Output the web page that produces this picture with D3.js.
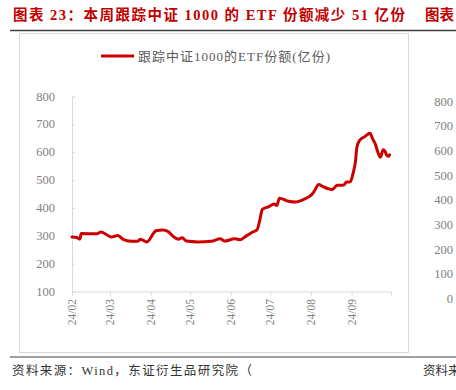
<!DOCTYPE html>
<html><head><meta charset="utf-8">
<script src="https://cdn.jsdelivr.net/npm/d3@7"></script>
<style>body{margin:0;background:#fff}svg{display:block}</style>
</head><body>
<svg id="c" width="456" height="390"></svg>
<script>
const dates = ["2024-02-01","2024-02-05","2024-02-07","2024-02-08","2024-02-20","2024-02-23","2024-03-02","2024-03-07","2024-03-11","2024-03-17","2024-03-22","2024-03-24","2024-03-29","2024-04-05","2024-04-10","2024-04-14","2024-04-18","2024-04-22","2024-04-25","2024-04-28","2024-05-07","2024-05-17","2024-05-24","2024-05-27","2024-06-04","2024-06-08","2024-06-12","2024-06-17","2024-06-21","2024-06-23","2024-06-25","2024-06-30","2024-07-04","2024-07-06","2024-07-08","2024-07-15","2024-07-20","2024-07-25","2024-07-28","2024-08-01","2024-08-03","2024-08-07","2024-08-10","2024-08-14","2024-08-17","2024-08-21","2024-08-26","2024-08-28","2024-08-31","2024-09-02","2024-09-04","2024-09-05","2024-09-07","2024-09-11","2024-09-15","2024-09-17","2024-09-19","2024-09-21","2024-09-23","2024-09-25","2024-09-26","2024-09-28","2024-09-29","2024-09-30"];
const values = [296,293,288,308,307,314,296,301,287,280,280,288,278,318,321,316,298,288,293,281,278,280,289,281,289,286,297,312,322,355,395,405,414,409,435,424,421,427,434,445,456,484,477,469,466,481,482,493,494,522,570,618,642,656,668,648,630,600,582,609,606,588,585,591];
const tickLabels = ["24/02","24/03","24/04","24/05","24/06","24/07","24/08","24/09"];
const yTicks = [100,200,300,400,500,600,700,800];
const rightTicks = [0,100,200,300,400,500,600,700,800];
const seriesName = "跟踪中证1000的ETF份额(亿份)";
const titleText = "图表 23：本周跟踪中证 1000 的 ETF 份额减少 51 亿份";
const title2 = "图表";
const sourceText = "资料来源：Wind，东证衍生品研究院（";
const source2 = "资料来";

const parse = d3.timeParse("%Y-%m-%d");
const data = dates.map((d,i)=>({d:parse(d), v:values[i]}));
const svg = d3.select("#c");
const serif = "'Liberation Serif','Noto Sans CJK SC',serif";

// title
svg.append("text").attr("x",13).attr("y",20).attr("fill","#c00000").attr("font-weight","bold")
  .attr("font-family",serif).attr("font-size",14.5).attr("textLength",392).attr("lengthAdjust","spacing").text(titleText);
svg.append("text").attr("x",425).attr("y",20).attr("fill","#c00000").attr("font-weight","bold")
  .attr("font-family",serif).attr("font-size",14.5).text(title2);
svg.append("line").attr("x1",10).attr("x2",456).attr("y1",30.5).attr("y2",30.5).attr("stroke","#404040").attr("stroke-width",1.5);

// chart frame
svg.append("rect").attr("x",19.5).attr("y",33.5).attr("width",389).attr("height",319).attr("fill","none").attr("stroke","#d9d9d9").attr("stroke-width",1);

// scales
const x = d3.scaleTime().domain([parse("2024-02-01"), parse("2024-10-01")]).range([72,391]);
const y = d3.scaleLinear().domain([100,800]).range([291.5,96.5]);

// y axis
const yAx = svg.append("g").attr("transform","translate(72,0)")
  .call(d3.axisRight(y).tickValues(yTicks).tickSize(3).tickFormat(""));
yAx.selectAll("path,line").attr("stroke","#d9d9d9");
svg.append("g").selectAll("text").data(yTicks).join("text")
  .attr("x",55).attr("y",d=>y(d)+4).attr("text-anchor","end")
  .attr("font-family",serif).attr("font-size",12.5).attr("fill","#7f7f7f").text(d=>d);

// x axis
const months = tickLabels.map(t=>parse("20"+t.slice(0,2)+"-"+t.slice(3)+"-01"));
const xAx = svg.append("g").attr("transform","translate(0,291.5)")
  .call(d3.axisBottom(x).tickValues(months.concat([parse("2024-10-01")])).tickSize(4).tickSizeOuter(0).tickFormat(""));
xAx.selectAll("path,line").attr("stroke","#d9d9d9");
svg.append("g").selectAll("text").data(months).join("text")
  .attr("transform",(d)=>`translate(${x(d)+4},299) rotate(-90)`).attr("text-anchor","end")
  .attr("font-family",serif).attr("font-size",11.5).attr("fill","#7f7f7f")
  .text((d,i)=>tickLabels[i]);

// line
svg.append("path").datum(data).attr("fill","none").attr("stroke","#cc0000").attr("stroke-width",3)
  .attr("stroke-linejoin","round").attr("stroke-linecap","round")
  .attr("d",d3.line().x(d=>x(d.d)).y(d=>y(d.v)).curve(d3.curveMonotoneX));

// legend
svg.append("line").attr("x1",101).attr("x2",134).attr("y1",56).attr("y2",56).attr("stroke","#cc0000").attr("stroke-width",3);
svg.append("text").attr("x",138).attr("y",60.5).attr("font-family",serif).attr("font-size",13)
  .attr("fill","#595959").attr("textLength",192).attr("lengthAdjust","spacing").text(seriesName);

// partial right chart
const y2 = d3.scaleLinear().domain([0,800]).range([299,101.5]);
svg.append("g").selectAll("text").data(rightTicks).join("text")
  .attr("x",453).attr("y",d=>y2(d)+4).attr("text-anchor","end")
  .attr("font-family",serif).attr("font-size",12.5).attr("fill","#7f7f7f").text(d=>d);

// footer
svg.append("line").attr("x1",10).attr("x2",456).attr("y1",357).attr("y2",357).attr("stroke","#808080").attr("stroke-width",1.5);
svg.append("text").attr("x",12).attr("y",375).attr("font-family",serif).attr("font-size",12.5)
  .attr("fill","#333").attr("textLength",240).attr("lengthAdjust","spacing").text(sourceText);
svg.append("text").attr("x",423).attr("y",375).attr("font-family",serif).attr("font-size",12.5)
  .attr("fill","#333").text(source2);
</script>
</body></html>
